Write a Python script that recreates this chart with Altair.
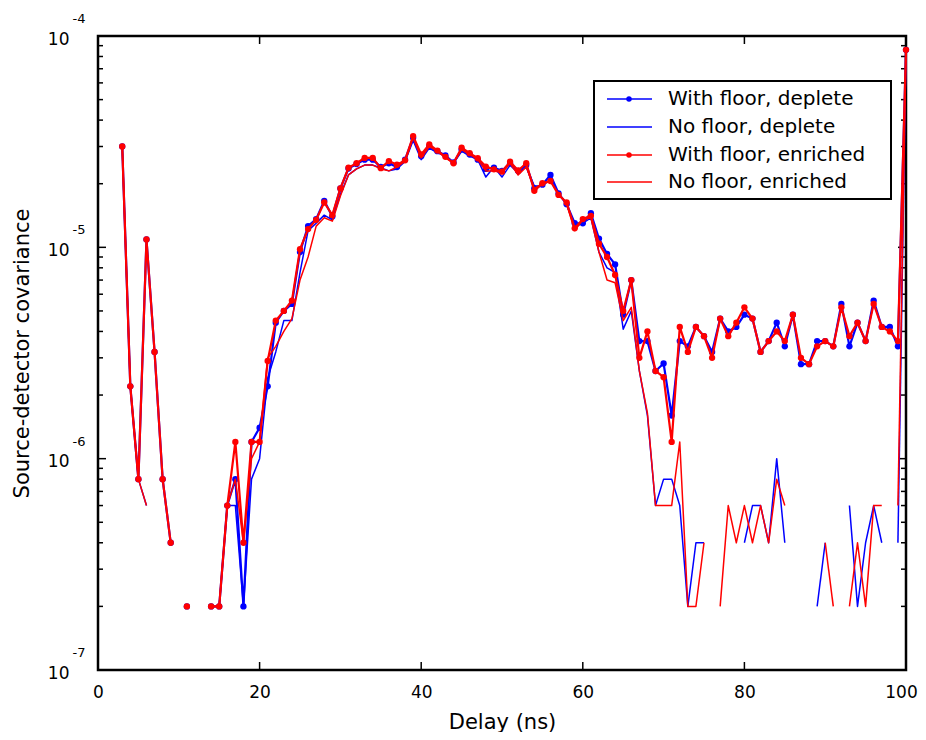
import altair as alt
import pandas as pd

N = None
delay = list(range(0, 101))

with_floor_deplete = [
    N, N, N, 3.0e-5, 2.2e-6, 8e-7, 1.09e-5, 3.2e-6, 8e-7, 4e-7,
    N, 2e-7, N, N, 2e-7, 2e-7, 6e-7, 8e-7, 2e-7, 1.2e-6,
    1.4e-6, 2.2e-6, 4.4e-6, 5.0e-6, 5.4e-6, 9.5e-6, 1.26e-5, 1.36e-5, 1.66e-5, 1.40e-5,
    1.9e-5, 2.36e-5, 2.48e-5, 2.6e-5, 2.6e-5, 2.4e-5, 2.5e-5, 2.4e-5, 2.6e-5, 3.3e-5,
    2.7e-5, 3.0e-5, 2.85e-5, 2.72e-5, 2.52e-5, 2.9e-5, 2.75e-5, 2.6e-5, 2.35e-5, 2.38e-5,
    2.3e-5, 2.5e-5, 2.3e-5, 2.45e-5, 1.9e-5, 1.98e-5, 2.2e-5, 1.8e-5, 1.6e-5, 1.3e-5,
    1.3e-5, 1.45e-5, 1.1e-5, 9.3e-6, 8.3e-6, 4.8e-6, 7.0e-6, 3.6e-6, 3.6e-6, 2.6e-6,
    2.82e-6, 1.6e-6, 3.6e-6, 3.4e-6, 4.2e-6, 3.8e-6, 3.2e-6, 4.6e-6, 4.0e-6, 4.2e-6,
    4.8e-6, 4.6e-6, 3.2e-6, 3.6e-6, 4.4e-6, 3.4e-6, 4.8e-6, 2.8e-6, 2.8e-6, 3.6e-6,
    3.6e-6, 3.4e-6, 5.4e-6, 3.4e-6, 4.4e-6, 3.6e-6, 5.6e-6, 4.2e-6, 4.2e-6, 3.4e-6,
    8.6e-5,
]

no_floor_deplete = [
    N, N, N, 3.0e-5, 2.2e-6, 8e-7, 6e-7, N, N, N,
    N, N, N, N, 2e-7, 2e-7, 6e-7, 6e-7, 2e-7, 8e-7,
    1.0e-6, 2.4e-6, 3.2e-6, 4.5e-6, 4.5e-6, 7.6e-6, 1.2e-5, 1.3e-5, 1.42e-5, 1.35e-5,
    1.78e-5, 2.2e-5, 2.35e-5, 2.45e-5, 2.45e-5, 2.38e-5, 2.3e-5, 2.35e-5, 2.55e-5, 3.2e-5,
    2.6e-5, 2.95e-5, 2.8e-5, 2.7e-5, 2.5e-5, 2.85e-5, 2.7e-5, 2.6e-5, 2.15e-5, 2.4e-5,
    2.15e-5, 2.45e-5, 2.25e-5, 2.4e-5, 1.95e-5, 1.95e-5, 2.1e-5, 1.8e-5, 1.6e-5, 1.25e-5,
    1.3e-5, 1.38e-5, 9.5e-6, 8.0e-6, 7.6e-6, 4.1e-6, 5.0e-6, 2.6e-6, 1.6e-6, 6e-7,
    8e-7, 8e-7, 6e-7, 2e-7, 4e-7, 4e-7, N, N, N, N,
    4e-7, 6e-7, 6e-7, 4e-7, 1e-6, 4e-7, N, N, N, 2e-7,
    4e-7, N, N, 6e-7, 2e-7, 4e-7, 6e-7, 4e-7, N, 4e-7,
    8.6e-5,
]

with_floor_enriched = [
    N, N, N, 3.0e-5, 2.2e-6, 8e-7, 1.09e-5, 3.2e-6, 8e-7, 4e-7,
    N, 2e-7, N, N, 2e-7, 2e-7, 6e-7, 1.2e-6, 4e-7, 1.2e-6,
    1.2e-6, 2.9e-6, 4.5e-6, 5.0e-6, 5.6e-6, 9.8e-6, 1.22e-5, 1.35e-5, 1.63e-5, 1.42e-5,
    1.9e-5, 2.38e-5, 2.5e-5, 2.65e-5, 2.65e-5, 2.37e-5, 2.56e-5, 2.46e-5, 2.58e-5, 3.36e-5,
    2.75e-5, 3.07e-5, 2.87e-5, 2.68e-5, 2.5e-5, 2.96e-5, 2.79e-5, 2.64e-5, 2.41e-5, 2.34e-5,
    2.28e-5, 2.54e-5, 2.31e-5, 2.5e-5, 1.85e-5, 2.01e-5, 2.06e-5, 1.77e-5, 1.63e-5, 1.23e-5,
    1.36e-5, 1.41e-5, 1.04e-5, 9.0e-6, 7.4e-6, 5.0e-6, 7.0e-6, 3.0e-6, 4.0e-6, 2.6e-6,
    2.43e-6, 1.2e-6, 4.2e-6, 3.2e-6, 4.2e-6, 3.8e-6, 3.0e-6, 4.6e-6, 3.8e-6, 4.4e-6,
    5.2e-6, 4.6e-6, 3.2e-6, 3.6e-6, 4.0e-6, 3.6e-6, 4.8e-6, 3.0e-6, 2.8e-6, 3.4e-6,
    3.6e-6, 3.4e-6, 5.2e-6, 3.8e-6, 4.4e-6, 3.6e-6, 5.4e-6, 4.2e-6, 4.0e-6, 3.6e-6,
    8.6e-5,
]

no_floor_enriched = [
    N, N, N, 3.0e-5, 2.2e-6, 8e-7, 6e-7, N, N, N,
    N, N, N, N, 2e-7, 2e-7, 6e-7, 8e-7, 4e-7, 1.0e-6,
    1.2e-6, 3.0e-6, 3.4e-6, 4.0e-6, 4.6e-6, 7.0e-6, 9.0e-6, 1.26e-5, 1.38e-5, 1.33e-5,
    1.75e-5, 2.2e-5, 2.35e-5, 2.45e-5, 2.45e-5, 2.35e-5, 2.3e-5, 2.4e-5, 2.55e-5, 3.3e-5,
    2.65e-5, 3.0e-5, 2.85e-5, 2.65e-5, 2.5e-5, 2.9e-5, 2.75e-5, 2.6e-5, 2.3e-5, 2.3e-5,
    2.25e-5, 2.5e-5, 2.2e-5, 2.4e-5, 1.9e-5, 2.0e-5, 2.05e-5, 1.8e-5, 1.6e-5, 1.2e-5,
    1.35e-5, 1.38e-5, 9.5e-6, 7.0e-6, 6.8e-6, 4.5e-6, 5.2e-6, 2.6e-6, 1.64e-6, 6e-7,
    6e-7, 6e-7, 1.2e-6, 2e-7, 2e-7, 4e-7, N, 2e-7, 6e-7, 4e-7,
    6e-7, 4e-7, 6e-7, 4e-7, 8e-7, 6e-7, N, N, N, N,
    4e-7, 2e-7, N, 2e-7, 4e-7, 2e-7, 6e-7, 6e-7, N, 6e-7,
    8.6e-5,
]

legend_labels = ["With floor, deplete", "No floor, deplete",
                 "With floor, enriched", "No floor, enriched"]
legend_colors = ["#0000ff", "#0000ff", "#ff0000", "#ff0000"]
legend_markers = [True, False, True, False]

x_tick_values = [0, 20, 40, 60, 80, 100]
y_decades = [1e-7, 1e-6, 1e-5, 1e-4]
y_exponents = ["-7", "-6", "-5", "-4"]
y_minor = [k * d for d in [1e-7, 1e-6, 1e-5] for k in range(2, 10)]

W, H = 808, 634
FONT = "DejaVu Sans"


def series_frame(values):
    rows = []
    seg = 0
    for x, v in zip(delay, values):
        if v is None:
            seg += 1
            continue
        rows.append({"x": x, "v": v, "seg": seg})
    return pd.DataFrame(rows)


xs = alt.Scale(domain=[0, 100], nice=False, zero=False)
ys = alt.Scale(type="log", domain=[1e-7, 1e-4], nice=False)

x_axis = alt.Axis(values=x_tick_values, ticks=False, domain=False, grid=False,
                  labelFontSize=17, labelFont=FONT, labelPadding=14, labelFlush=False,
                  labelOffset=alt.condition("datum.value == 100", alt.value(-5), alt.value(0)),
                  labelColor="black", title="Delay (ns)", titleFont=FONT,
                  titleFontSize=21, titleFontWeight="normal", titleColor="black",
                  titleX=W / 2, titleY=52, titleBaseline="middle", titleAlign="center")
y_axis = alt.Axis(values=y_decades, labelExpr="'10'", ticks=False, domain=False,
                  grid=False, labelFontSize=17, labelFont=FONT, labelPadding=29,
                  labelOffset=3, labelFlush=False, labelColor="black",
                  title="Source-detector covariance", titleFont=FONT, titleFontSize=21,
                  titleFontWeight="normal", titleColor="black", titleX=-76, titleY=H / 2,
                  titleAngle=270, titleBaseline="middle", titleAlign="center")

X = alt.X("x:Q", scale=xs, axis=x_axis)
Y = alt.Y("v:Q", scale=ys, axis=y_axis)

layers = []

# tick marks drawn inward
minor_df = pd.DataFrame({"v": y_minor})
major_df = pd.DataFrame({"v": y_decades})
xt_df = pd.DataFrame({"x": x_tick_values[1:-1]})
tick = dict(color="black", strokeWidth=1.5)
layers.append(alt.Chart(minor_df).mark_rule(**tick).encode(y=Y, x=alt.value(0), x2=alt.value(5)))
layers.append(alt.Chart(minor_df).mark_rule(**tick).encode(y=Y, x=alt.value(W - 5), x2=alt.value(W)))
layers.append(alt.Chart(major_df).mark_rule(**tick).encode(y=Y, x=alt.value(0), x2=alt.value(8)))
layers.append(alt.Chart(major_df).mark_rule(**tick).encode(y=Y, x=alt.value(W - 8), x2=alt.value(W)))
layers.append(alt.Chart(xt_df).mark_rule(**tick).encode(x=X, y=alt.value(0), y2=alt.value(8)))
layers.append(alt.Chart(xt_df).mark_rule(**tick).encode(x=X, y=alt.value(H - 8), y2=alt.value(H)))

# exponents of the y labels
exp_df = pd.DataFrame({"v": y_decades, "t": y_exponents})
layers.append(alt.Chart(exp_df).mark_text(font=FONT, fontSize=13, align="center",
                                           baseline="middle", dy=-17, color="black")
              .encode(y=Y, x=alt.value(-19), text="t:N"))

series = [
    (no_floor_deplete, "#0000ff", False),
    (with_floor_deplete, "#0000ff", True),
    (no_floor_enriched, "#ff0000", False),
    (with_floor_enriched, "#ff0000", True),
]
for vals, col, marker in series:
    df = series_frame(vals)
    sw = 2.2 if marker else 1.5
    layers.append(alt.Chart(df).mark_line(color=col, strokeWidth=sw, strokeJoin="round")
                  .encode(x=X, y=Y, detail="seg:N", order="x:Q"))
    if marker:
        layers.append(alt.Chart(df).mark_point(filled=True, color=col, size=40, opacity=1)
                      .encode(x=X, y=Y))

# legend box
one = pd.DataFrame({"a": [0]})
layers.append(alt.Chart(one).mark_rect(fill="white", stroke="black", strokeWidth=2)
              .encode(x=alt.value(496), x2=alt.value(793), y=alt.value(45), y2=alt.value(163)))
rows_y = [63, 91, 119, 146]
for lab, col, mk, ry in zip(legend_labels, legend_colors, legend_markers, rows_y):
    layers.append(alt.Chart(one).mark_rule(color=col, strokeWidth=1.5)
                  .encode(x=alt.value(509), x2=alt.value(554), y=alt.value(ry)))
    if mk:
        layers.append(alt.Chart(one).mark_point(filled=True, color=col, size=30, opacity=1)
                      .encode(x=alt.value(531), y=alt.value(ry)))
    layers.append(alt.Chart(one).mark_text(font=FONT, fontSize=20, align="left",
                                           baseline="middle", color="black")
                  .encode(x=alt.value(570), y=alt.value(ry), text=alt.value(lab)))

chart = alt.layer(*layers).properties(
    width=W, height=H,
    autosize=alt.AutoSizeParams(type="none"),
    padding={"left": 90, "top": 28, "right": 12, "bottom": 62},
).configure(font=FONT).configure_view(stroke="black", strokeWidth=2.5)

chart.save("out.html", embed_options={"renderer": "svg", "actions": False})
